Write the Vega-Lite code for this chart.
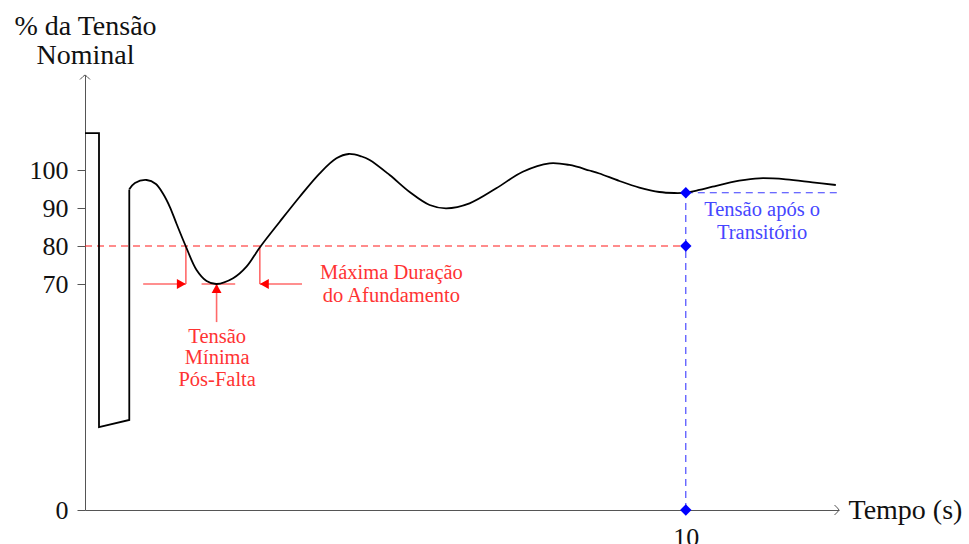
{
  "$schema": "https://vega.github.io/schema/vega-lite/v6.json",
  "width": 754,
  "height": 435,
  "autosize": "none",
  "padding": {"left": 85, "top": 75, "right": 130, "bottom": 34},
  "background": "white",
  "config": {"view": {"stroke": null}, "font": "Liberation Serif"},
  "datasets": {
    "step": [
      {"i": 0, "t": 0, "v": 109.7},
      {"i": 1, "t": 0.233, "v": 109.7},
      {"i": 2, "t": 0.233, "v": 25.7},
      {"i": 3, "t": 0.737, "v": 27.9},
      {"i": 4, "t": 0.737, "v": 94.9}
    ],
    "curve": [
      {"t": 0.737, "v": 94.92},
      {"t": 0.831, "v": 96.58},
      {"t": 1.026, "v": 97.37},
      {"t": 1.18, "v": 96.32},
      {"t": 1.302, "v": 93.68},
      {"t": 1.413, "v": 90.26},
      {"t": 1.525, "v": 85.79},
      {"t": 1.679, "v": 79.87},
      {"t": 1.857, "v": 73.68},
      {"t": 2.023, "v": 70.79},
      {"t": 2.19, "v": 70.0},
      {"t": 2.465, "v": 71.5},
      {"t": 2.688, "v": 74.55},
      {"t": 2.909, "v": 79.61},
      {"t": 3.242, "v": 86.39},
      {"t": 3.574, "v": 92.97},
      {"t": 3.907, "v": 99.13},
      {"t": 4.185, "v": 103.08},
      {"t": 4.389, "v": 104.21},
      {"t": 4.605, "v": 103.55},
      {"t": 4.738, "v": 102.63},
      {"t": 5.071, "v": 98.68},
      {"t": 5.404, "v": 94.21},
      {"t": 5.736, "v": 90.79},
      {"t": 6.013, "v": 89.92},
      {"t": 6.401, "v": 91.24},
      {"t": 6.845, "v": 95.18},
      {"t": 7.287, "v": 99.55},
      {"t": 7.731, "v": 101.76},
      {"t": 8.063, "v": 101.32},
      {"t": 8.396, "v": 99.87},
      {"t": 8.562, "v": 99.08},
      {"t": 8.895, "v": 97.11},
      {"t": 9.227, "v": 95.39},
      {"t": 9.56, "v": 94.21},
      {"t": 9.809, "v": 93.95},
      {"t": 10.0, "v": 94.03},
      {"t": 10.224, "v": 94.74},
      {"t": 10.445, "v": 95.61},
      {"t": 10.889, "v": 97.18},
      {"t": 11.222, "v": 97.82},
      {"t": 11.666, "v": 97.55},
      {"t": 12.108, "v": 96.76},
      {"t": 12.497, "v": 96.05}
    ],
    "limit": [{"t": 0, "t2": 10, "v": 80, "v2": 80}],
    "settle": [
      {"t": 10, "t2": 10, "v": 0, "v2": 94.0},
      {"t": 10, "t2": 12.52, "v": 94.0, "v2": 94.0}
    ],
    "brackets": [
      {"t": 1.679, "t2": 1.679, "v": 70, "v2": 80},
      {"t": 2.91, "t2": 2.91, "v": 70, "v2": 80},
      {"t": 0.968, "t2": 1.679, "v": 70, "v2": 70},
      {"t": 3.612, "t2": 2.91, "v": 70, "v2": 70},
      {"t": 1.94, "t2": 2.5, "v": 70, "v2": 70},
      {"t": 2.19, "t2": 2.19, "v": 58.2, "v2": 70}
    ],
    "heads": [
      {"t": 1.679, "v": 70, "dir": "right"},
      {"t": 2.91, "v": 70, "dir": "left"},
      {"t": 2.19, "v": 70, "dir": "up"}
    ],
    "points": [
      {"t": 10, "v": 94.0},
      {"t": 10, "v": 80},
      {"t": 10, "v": 0}
    ],
    "xend": [{"t": 12.55, "v": 0}],
    "yend": [{"t": 0, "v": 125}],
    "notes": [
      {"t": 2.2, "v": 53.6, "label": "Tensão", "group": "sag"},
      {"t": 2.2, "v": 47.1, "label": "Mínima", "group": "sag"},
      {"t": 2.2, "v": 40.3, "label": "Pós-Falta", "group": "sag"},
      {"t": 5.1, "v": 72.9, "label": "Máxima Duração", "group": "sag"},
      {"t": 5.1, "v": 66.3, "label": "do Afundamento", "group": "sag"},
      {"t": 11.27, "v": 89.5, "label": "Tensão após o", "group": "post"},
      {"t": 11.27, "v": 83.4, "label": "Transitório", "group": "post"}
    ]
  },
  "encoding": {
    "x": {
      "field": "t",
      "type": "quantitative",
      "scale": {"domain": [0, 12.55], "nice": false, "zero": false},
      "axis": {
        "values": [10],
        "ticks": false,
        "grid": false,
        "domainColor": "#555555",
        "domainWidth": 1,
        "labelFont": "Liberation Serif",
        "labelFontSize": 26,
        "labelColor": "#111111",
        "labelPadding": 14,
        "title": "Tempo (s)",
        "titleFont": "Liberation Serif",
        "titleFontSize": 28,
        "titleFontWeight": "normal",
        "titleColor": "#111111",
        "titleAngle": 0,
        "titleAlign": "left",
        "titleBaseline": "middle",
        "titleX": 763,
        "titleY": 0
      }
    },
    "y": {
      "field": "v",
      "type": "quantitative",
      "scale": {"domain": [0, 70, 125], "range": [435, 209, 0], "nice": false, "zero": false},
      "axis": {
        "values": [0, 70, 80, 90, 100],
        "grid": false,
        "domainColor": "#555555",
        "domainWidth": 1,
        "tickColor": "#555555",
        "tickSize": 8,
        "labelFont": "Liberation Serif",
        "labelFontSize": 26,
        "labelColor": "#111111",
        "labelPadding": 9,
        "title": ["% da Tensão", "Nominal"],
        "titleFont": "Liberation Serif",
        "titleFontSize": 28,
        "titleFontWeight": "normal",
        "titleColor": "#111111",
        "titleAngle": 0,
        "titleAlign": "center",
        "titleBaseline": "alphabetic",
        "titleLineHeight": 29,
        "titleX": 0,
        "titleY": -41
      }
    }
  },
  "layer": [
    {
      "data": {"name": "limit"},
      "mark": {"type": "rule", "color": "#ff1a1a", "strokeWidth": 1.1, "strokeDash": [7, 5]},
      "encoding": {"x2": {"field": "t2"}, "y2": {"field": "v2"}}
    },
    {
      "data": {"name": "settle"},
      "mark": {"type": "rule", "color": "#3a3aff", "strokeWidth": 1.1, "strokeDash": [7, 5]},
      "encoding": {"x2": {"field": "t2"}, "y2": {"field": "v2"}}
    },
    {
      "data": {"name": "brackets"},
      "mark": {"type": "rule", "color": "#ff6a6a", "strokeWidth": 1.6},
      "encoding": {"x2": {"field": "t2"}, "y2": {"field": "v2"}}
    },
    {
      "data": {"name": "heads"},
      "mark": {"type": "point", "filled": true, "color": "#ff0000", "opacity": 1, "size": 324, "strokeWidth": 0},
      "encoding": {
        "shape": {
          "field": "dir",
          "type": "nominal",
          "scale": {
            "domain": ["right", "left", "up"],
            "range": ["M0,0 L-1,-0.55 L-1,0.55 Z", "M0,0 L1,-0.55 L1,0.55 Z", "M0,0 L-0.55,1 L0.55,1 Z"]
          },
          "legend": null
        }
      }
    },
    {
      "data": {"name": "step"},
      "mark": {"type": "line", "color": "#000000", "strokeWidth": 1.8, "interpolate": "linear", "strokeJoin": "miter"},
      "encoding": {"order": {"field": "i", "type": "quantitative"}}
    },
    {
      "data": {"name": "curve"},
      "mark": {"type": "line", "color": "#000000", "strokeWidth": 1.8, "interpolate": "catmull-rom"}
    },
    {
      "data": {"name": "points"},
      "mark": {"type": "point", "shape": "diamond", "filled": true, "color": "#0000ff", "opacity": 1, "size": 130, "strokeWidth": 0}
    },
    {
      "data": {"name": "xend"},
      "mark": {"type": "point", "shape": "M-0.9,-1 Q-0.15,-0.3 0,0 Q-0.15,0.3 -0.9,1", "filled": false, "color": "#555555", "opacity": 1, "size": 100, "strokeWidth": 1, "clip": false}
    },
    {
      "data": {"name": "yend"},
      "mark": {"type": "point", "shape": "M-1,0.9 Q-0.3,0.15 0,0 Q0.3,0.15 1,0.9", "filled": false, "color": "#555555", "opacity": 1, "size": 100, "strokeWidth": 1, "clip": false}
    },
    {
      "data": {"name": "notes"},
      "transform": [{"filter": "datum.group === 'sag'"}],
      "mark": {"type": "text", "font": "Liberation Serif", "fontSize": 20.5, "color": "#ff3333", "align": "center", "baseline": "middle"},
      "encoding": {"text": {"field": "label"}}
    },
    {
      "data": {"name": "notes"},
      "transform": [{"filter": "datum.group === 'post'"}],
      "mark": {"type": "text", "font": "Liberation Serif", "fontSize": 20.5, "color": "#4646ff", "align": "center", "baseline": "middle"},
      "encoding": {"text": {"field": "label"}}
    }
  ]
}
